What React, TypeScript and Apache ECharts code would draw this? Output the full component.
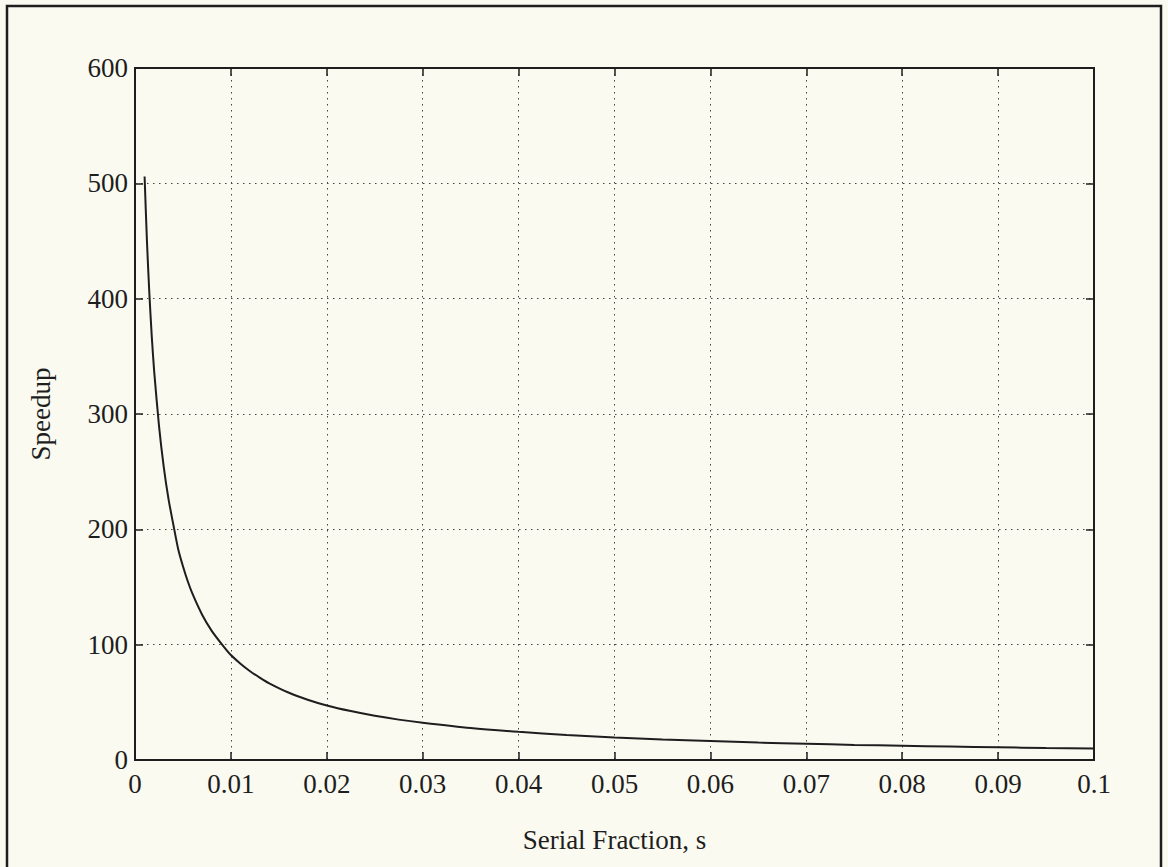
import React, { useEffect, useRef } from "react";
import * as echarts from "echarts";

const serialFraction = [0.001, 0.00125, 0.0015, 0.00175, 0.002, 0.0025, 0.003, 0.0035, 0.004, 0.0045, 0.005, 0.0055, 0.006, 0.007, 0.008, 0.009, 0.01, 0.011, 0.012, 0.013, 0.014, 0.016, 0.018, 0.02, 0.0225, 0.025, 0.0275, 0.03, 0.035, 0.04, 0.045, 0.05, 0.055, 0.06, 0.065, 0.07, 0.075, 0.08, 0.085, 0.09, 0.095, 0.1];
const speedup = [506, 449, 404, 367, 337, 290, 254, 226, 204, 183, 168, 155, 144, 126, 112, 101, 91, 83.5, 77, 71.5, 66.5, 58.5, 52.3, 47.3, 42.4, 38.3, 35, 32.3, 27.7, 24.4, 21.7, 19.6, 17.8, 16.4, 15.1, 14.1, 13.1, 12.3, 11.6, 11.0, 10.4, 9.9];
const xTickLabels = ["0", "0.01", "0.02", "0.03", "0.04", "0.05", "0.06", "0.07", "0.08", "0.09", "0.1"];
const yTickLabels = ["0", "100", "200", "300", "400", "500", "600"];
const xTitle = "Serial Fraction, s";
const yTitle = "Speedup";

const FONT = "'Liberation Serif', 'DejaVu Serif', serif";
const INK = "#1e1e1e";

export default function App() {
  const ref = useRef<HTMLDivElement>(null);
  useEffect(() => {
    if (!ref.current) return;
    const chart = echarts.init(ref.current, null, { renderer: "svg" });
    const gridL = 135, gridT = 68, gridW = 959, gridH = 692;
    const tick = { show: true, inside: true, length: 8, lineStyle: { color: INK, width: 1.5 } };
    const split = { show: true, lineStyle: { color: "#444", width: 1, type: [1.5, 4.5] as any } };
    chart.setOption({
      animation: false,
      backgroundColor: "#fafaf0",
      grid: { left: gridL, top: gridT, width: gridW, height: gridH, show: true, borderColor: INK, borderWidth: 2, backgroundColor: "transparent" },
      xAxis: [
        {
          type: "value", min: 0, max: 0.1, interval: 0.01, position: "bottom",
          axisLine: { show: true, onZero: false, lineStyle: { color: INK, width: 2 } },
          axisTick: tick,
          splitLine: split,
          axisLabel: {
            margin: 10, color: INK, fontFamily: FONT, fontSize: 27,
            formatter: (v: number) => xTickLabels[Math.round(v / 0.01)] ?? "",
          },
        },
        {
          type: "value", min: 0, max: 0.1, interval: 0.01, position: "top",
          axisLine: { show: true, onZero: false, lineStyle: { color: INK, width: 2 } },
          axisTick: tick, axisLabel: { show: false }, splitLine: { show: false },
        },
      ],
      yAxis: [
        {
          type: "value", min: 0, max: 600, interval: 100, position: "left",
          axisLine: { show: true, onZero: false, lineStyle: { color: INK, width: 2 } },
          axisTick: tick,
          splitLine: split,
          axisLabel: {
            margin: 7, color: INK, fontFamily: FONT, fontSize: 27,
            formatter: (v: number) => yTickLabels[Math.round(v / 100)] ?? "",
          },
        },
        {
          type: "value", min: 0, max: 600, interval: 100, position: "right",
          axisLine: { show: true, onZero: false, lineStyle: { color: INK, width: 2 } },
          axisTick: tick, axisLabel: { show: false }, splitLine: { show: false },
        },
      ],
      series: [
        {
          type: "line",
          xAxisIndex: 0, yAxisIndex: 0,
          data: serialFraction.map((s, i) => [s, speedup[i]]),
          showSymbol: false,
          smooth: 0.25,
          lineStyle: { color: INK, width: 2 },
        },
      ],
      graphic: [
        {
          type: "rect",
          shape: { x: 7, y: 6, width: 1154, height: 900 },
          style: { fill: "none", stroke: INK, lineWidth: 2.5 },
          silent: true,
        },
        {
          type: "text",
          x: gridL + gridW / 2, y: 840,
          style: { text: xTitle, font: `27px ${FONT}`, fill: INK, textAlign: "center", textVerticalAlign: "middle" },
        },
        {
          type: "text",
          x: 41, y: gridT + gridH / 2, rotation: Math.PI / 2,
          style: { text: yTitle, font: `27px ${FONT}`, fill: INK, textAlign: "center", textVerticalAlign: "middle" },
        },
      ],
    });
    return () => chart.dispose();
  }, []);
  return <div ref={ref} style={{ position: "fixed", left: 0, top: 0, width: 1168, height: 867 }} />;
}
